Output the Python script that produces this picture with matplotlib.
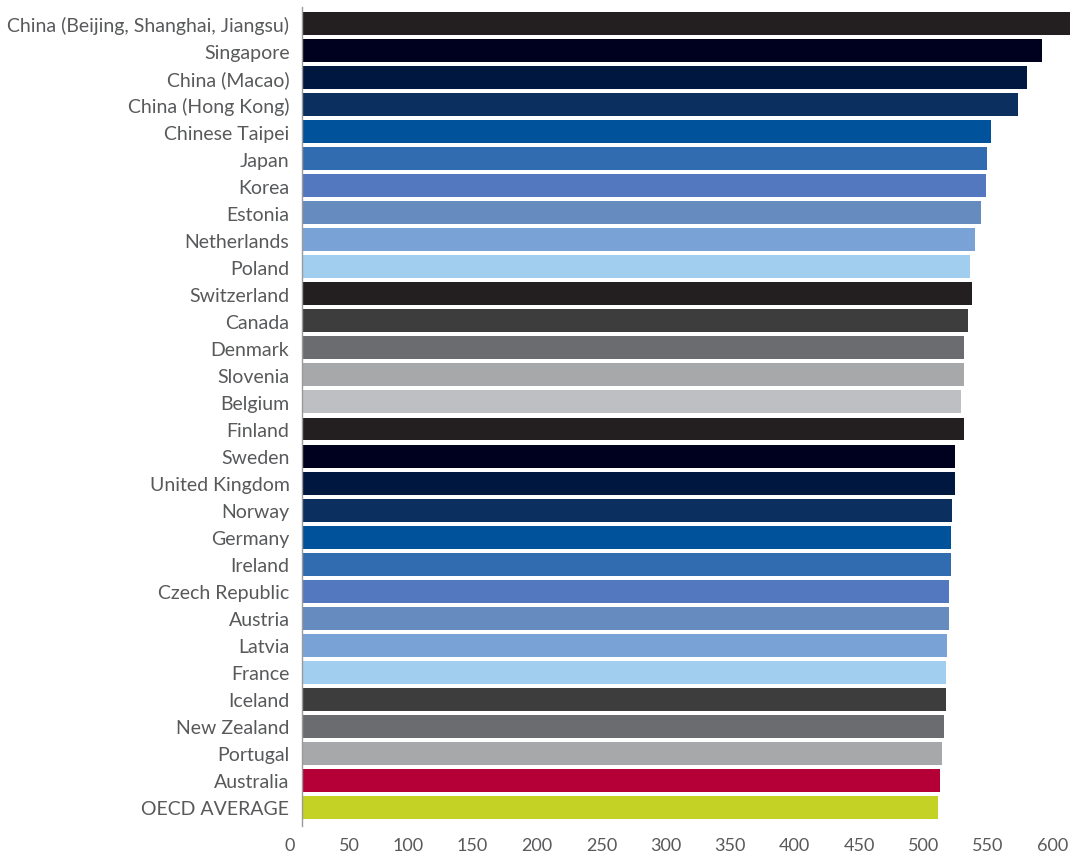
import matplotlib
matplotlib.use("Agg")
import matplotlib.pyplot as plt

countries = [
    "China (Beijing, Shanghai, Jiangsu)", "Singapore", "China (Macao)", "China (Hong Kong)",
    "Chinese Taipei", "Japan", "Korea", "Estonia", "Netherlands", "Poland",
    "Switzerland", "Canada", "Denmark", "Slovenia", "Belgium", "Finland",
    "Sweden", "United Kingdom", "Norway", "Germany", "Ireland", "Czech Republic",
    "Austria", "Latvia", "France", "Iceland", "New Zealand", "Portugal",
    "Australia", "OECD AVERAGE",
]
scores = [
    591, 569, 558, 551, 530, 527, 526, 522, 518, 514,
    515, 512, 509, 509, 507, 509, 502, 502, 500, 499,
    499, 498, 498, 496, 495, 495, 494, 492, 491, 489,
]
colors = [
    "#231f20", "#00001f", "#00173f", "#0b3060", "#00529b", "#316cb0", "#5478bf",
    "#668bbf", "#79a2d6", "#a1cdee",
    "#231f20", "#3d3d3d", "#6b6c70", "#a7a8aa", "#bebfc2",
    "#231f20", "#00001f", "#00173f", "#0b3060", "#00529b", "#316cb0", "#5478bf",
    "#668bbf", "#79a2d6", "#a1cdee",
    "#3d3d3d", "#6b6c70", "#a7a8aa", "#b50037", "#c4d125",
]
tick_values = list(range(0, 601, 50))

plt.rcParams['font.family'] = ['Lato', 'DejaVu Sans']
text_color = "#58595b"

W, H = 1071, 853
px_per_unit = 1.3
x_left_units = 20
fig = plt.figure(figsize=(W / 100, H / 100), dpi=100)
ax_left_px = 302 - x_left_units * px_per_unit
ax = fig.add_axes([ax_left_px / W, 26 / H, 1 - ax_left_px / W, (827 - 8) / H])

ypos = list(range(len(countries)))
ax.barh(ypos, scores, height=0.85, color=colors)
ax.set_ylim(len(countries) - 1 + 0.685, -0.61)
ax.set_xlim(-x_left_units, (W - ax_left_px) / px_per_unit - x_left_units)
ax.spines['left'].set_position(('data', 0))
ax.set_yticks(ypos)
ax.set_yticklabels(countries, fontsize=14, color=text_color)
ax.tick_params(axis='y', length=0, pad=9)

# tick labels sit slightly offset from the bar scale in the reference
a, b = 0.991, -5.4
sec = ax.secondary_xaxis('bottom', functions=(lambda d: (d - b) / a, lambda v: a * v + b))
sec.set_xticks(tick_values)
sec.set_xticklabels([str(v) for v in tick_values], fontsize=13, color=text_color, ha='right')
sec.tick_params(length=0, pad=8)
sec.spines['bottom'].set_visible(False)
ax.set_xticks([])

for s in ['top', 'right', 'bottom']:
    ax.spines[s].set_visible(False)
ax.spines['left'].set_color("#9a9a9a")
ax.spines['left'].set_linewidth(1)

fig.savefig("out.png", dpi=100)
